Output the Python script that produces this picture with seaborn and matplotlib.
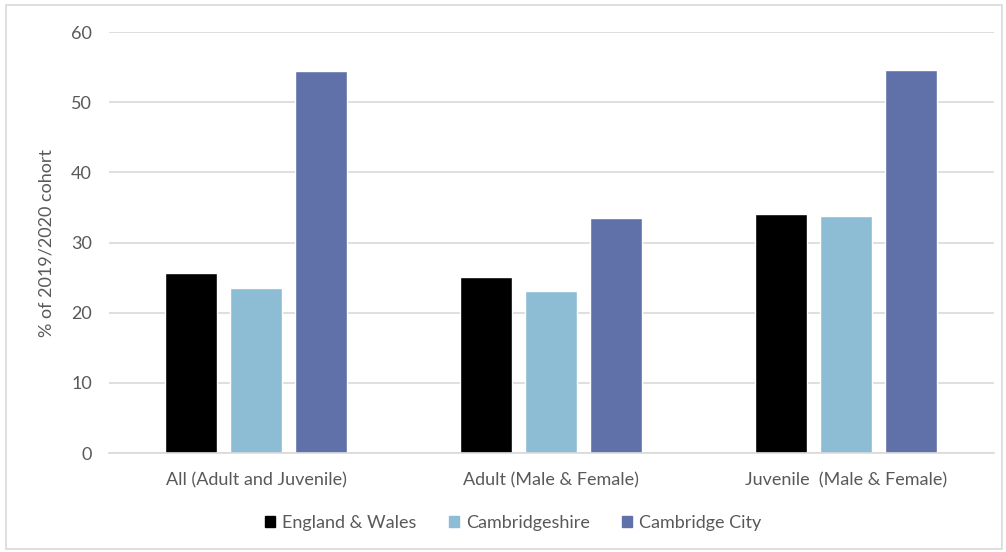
import matplotlib
matplotlib.use('Agg')
import matplotlib.pyplot as plt
import matplotlib.patches as mpatches
import seaborn as sns
import pandas as pd

categories = ['All (Adult and Juvenile)', 'Adult (Male & Female)', 'Juvenile  (Male & Female)']
areas = ['England & Wales', 'Cambridgeshire', 'Cambridge City']
england_wales = [25.6, 25.1, 34.1]
cambridgeshire = [23.5, 23.1, 33.8]
cambridge_city = [54.4, 33.5, 54.6]
colors = ['#000000', '#8dbdd4', '#6071aa']

rows = []
for area, vals in zip(areas, [england_wales, cambridgeshire, cambridge_city]):
    for cat, v in zip(categories, vals):
        rows.append({'category': cat, 'area': area, 'value': v})
df = pd.DataFrame(rows)

sns.set_style('white')
plt.rcParams['font.family'] = ['Lato', 'DejaVu Sans']

fig = plt.figure(figsize=(10.06, 5.52), dpi=100)
ax = fig.add_axes([0.108, 0.1793, 0.8796, 0.7627])

sns.barplot(data=df, x='category', y='value', hue='area',
            palette=colors, saturation=1, width=0.66, gap=0.2, ax=ax,
            order=categories, hue_order=areas, legend=False)

ax.set_xlim(-0.5, 2.5)
ax.set_ylim(0, 60)
ax.set_yticks(range(0, 61, 10))
ax.yaxis.grid(True, color='#d9d9d9', linewidth=1.2)
ax.set_axisbelow(True)
for s in ['top', 'right', 'left']:
    ax.spines[s].set_visible(False)
ax.spines['bottom'].set_color('#d9d9d9')
ax.spines['bottom'].set_linewidth(1.2)
ax.tick_params(axis='both', length=0, labelsize=13, colors='#595959')
ax.tick_params(axis='x', pad=14)
ax.tick_params(axis='y', pad=12)
ax.set_xlabel('')
ax.set_ylabel('% of 2019/2020 cohort', fontsize=13, color='#595959', labelpad=12)

handles = [mpatches.Patch(color=c, label=a) for c, a in zip(colors, areas)]
fig.legend(handles=handles, loc='center', bbox_to_anchor=(0.51, 0.052), ncol=3,
           frameon=False, fontsize=13, handlelength=0.55, handleheight=0.55,
           columnspacing=1.8, handletextpad=0.4, labelcolor='#595959')

fig.add_artist(mpatches.Rectangle((0.006, 0.006), 0.99, 0.985, transform=fig.transFigure,
                                  fill=False, edgecolor='#d9d9d9', linewidth=1.2))

plt.savefig('out.png', dpi=100)
